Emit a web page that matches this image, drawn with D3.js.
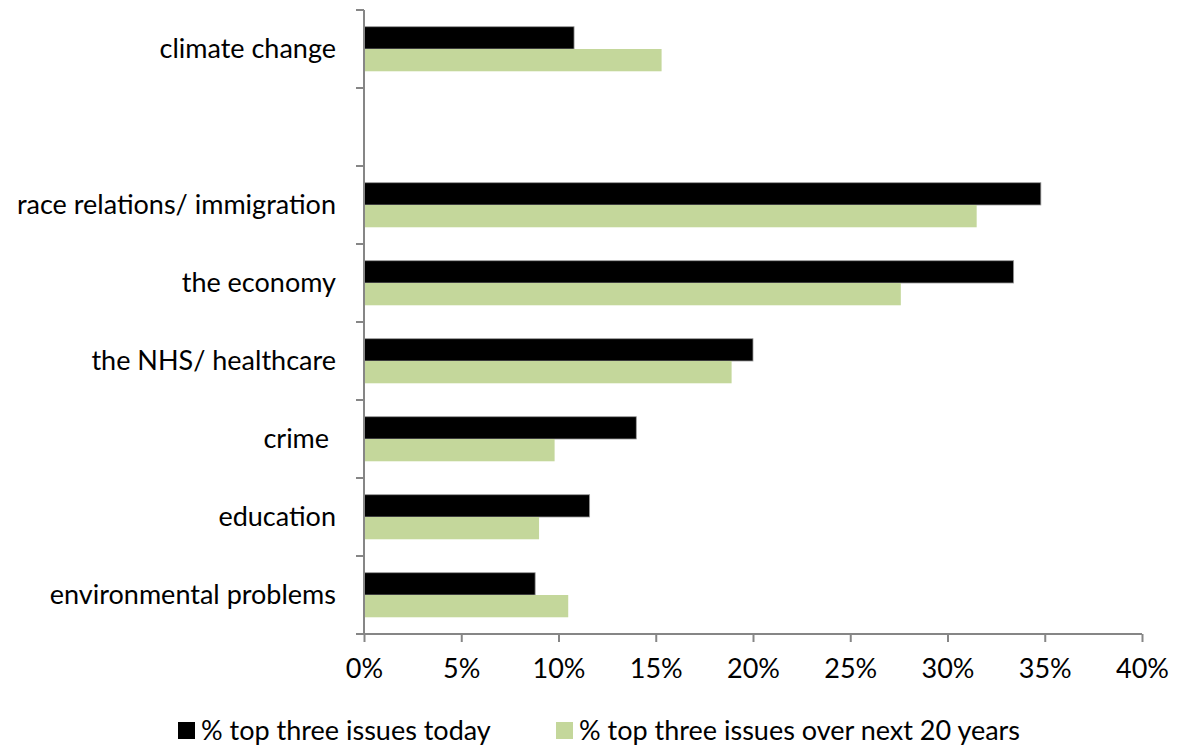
<!DOCTYPE html>
<html>
<head>
<meta charset="utf-8">
<script src="https://cdn.jsdelivr.net/npm/d3@7"></script>
<style>
  html, body { margin: 0; padding: 0; background: #fff; }
  svg text { font-family: Lato, "Open Sans", sans-serif; fill: #000; white-space: pre; }
</style>
</head>
<body>
<svg id="chart" width="1178" height="749"></svg>
<script>
// Issue categories, top to bottom ("" is an intentionally empty slot)
const categories = [
  "climate change",
  "",
  "race relations/ immigration",
  "the economy",
  "the NHS/ healthcare",
  "crime ",
  "education",
  "environmental problems"
];
// Share of respondents naming each issue (%), null for the empty slot
const today = [10.8, null, 34.8, 33.4, 20.0, 14.0, 11.6, 8.8];
const next20 = [15.3, null, 31.5, 27.6, 18.9, 9.8, 9.0, 10.5];
const seriesNames = ["% top three issues today", "% top three issues over next 20 years"];
const xTicks = [0, 5, 10, 15, 20, 25, 30, 35, 40];

const colors = ["#000000", "#c4d79b"];
const fontSize = 27;

const svg = d3.select("#chart");
const plotLeft = 364, plotRight = 1142, plotTop = 10, plotBottom = 634;

const x = d3.scaleLinear().domain([0, 40]).range([plotLeft, plotRight]);
const y = d3.scaleBand().domain(d3.range(categories.length)).range([plotTop, plotBottom]);
// Each group holds two bars; Excel-style gap width of 150%
const slot = y.bandwidth();
const barH = slot / 3.5;
const groupOffset = (slot - 2 * barH) / 2;

const data = categories.map((c, i) => ({ c, i, vals: [today[i], next20[i]] }));

const g = svg.append("g");
data.forEach(d => {
  d.vals.forEach((v, s) => {
    if (v == null) return;
    g.append("rect")
      .attr("x", x(0))
      .attr("y", y(d.i) + groupOffset + s * barH)
      .attr("width", x(v) - x(0))
      .attr("height", barH)
      .attr("fill", colors[s])
      .attr("stroke", s === 0 ? "#9a9a9a" : "none")
      .attr("stroke-width", 0.8);
  });
});

const axisColor = "#868686";

// Category axis with ticks between groups
const yAxis = svg.append("g");
yAxis.append("line").attr("x1", plotLeft).attr("x2", plotLeft).attr("y1", plotTop).attr("y2", plotBottom)
  .attr("stroke", axisColor).attr("stroke-width", 2);
d3.range(categories.length + 1).forEach(k => {
  const yy = plotTop + k * slot;
  yAxis.append("line").attr("x1", plotLeft - 8).attr("x2", plotLeft).attr("y1", yy).attr("y2", yy)
    .attr("stroke", axisColor).attr("stroke-width", 2);
});
data.forEach(d => {
  if (!d.c) return;
  yAxis.append("text")
    .attr("x", 336)
    .attr("y", y(d.i) + slot / 2)
    .attr("dy", "0.33em")
    .attr("text-anchor", "end")
    .attr("font-size", fontSize)
    .text(d.c);
});

// Value axis
const xAxis = svg.append("g").attr("transform", `translate(0,${plotBottom})`)
  .call(d3.axisBottom(x).tickValues(xTicks).tickSize(8).tickPadding(17).tickFormat(d => d + "%"));
xAxis.select(".domain").attr("stroke", axisColor).attr("stroke-width", 2)
  .attr("d", `M${plotLeft},0H${plotRight}`);
xAxis.selectAll(".tick line").attr("stroke", axisColor).attr("stroke-width", 2);
xAxis.selectAll(".tick text").attr("font-size", fontSize).attr("font-family", "Lato, 'Open Sans', sans-serif").attr("fill", "#000");

// Legend
const legendX = [178, 556];
seriesNames.forEach((name, s) => {
  const lg = svg.append("g").attr("transform", `translate(${legendX[s]},722)`);
  lg.append("rect").attr("width", 17).attr("height", 17).attr("fill", colors[s]);
  lg.append("text").attr("x", 23).attr("y", 18).attr("font-size", fontSize).text(name);
});
</script>
</body>
</html>
